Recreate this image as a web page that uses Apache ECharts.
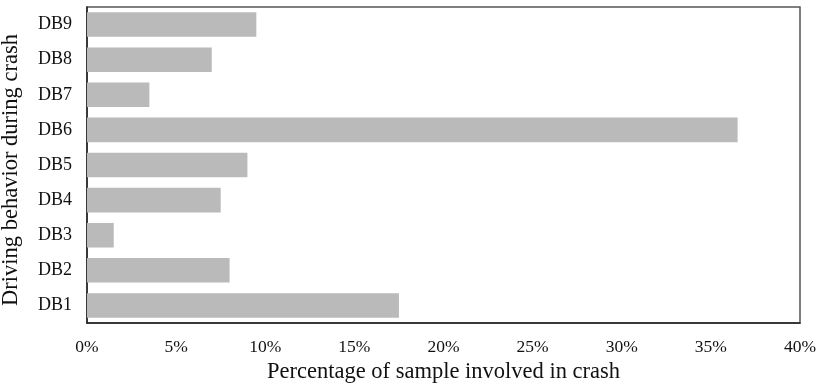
<!DOCTYPE html>
<html><head><meta charset="utf-8">
<script src="https://cdn.jsdelivr.net/npm/echarts@6/dist/echarts.min.js"></script>
<style>html,body{margin:0;padding:0;background:#fff}#c{width:819px;height:387px}</style>
</head><body><div id="c"></div>
<script>
const categories = ['DB1','DB2','DB3','DB4','DB5','DB6','DB7','DB8','DB9'];
const values = [17.5, 8.0, 1.5, 7.5, 9.0, 36.5, 3.5, 7.0, 9.5];
const xTicks = [0,5,10,15,20,25,30,35,40];
const font = 'Liberation Serif';
const chart = echarts.init(document.getElementById('c'));
chart.setOption({
  animation: false,
  grid: {left: 87, right: 19, top: 7, bottom: 64, show: true, borderColor: '#555', borderWidth: 1.5,
    containLabel: false, outerBoundsMode: 'none'},
  xAxis: {
    type: 'value', min: 0, max: 40, interval: 5,
    name: 'Percentage of sample involved in crash', nameLocation: 'middle', nameGap: 38,
    nameTextStyle: {fontFamily: font, fontSize: 22.5, color: '#111'},
    axisLine: {show: true, lineStyle: {color: '#222', width: 1.5}},
    axisTick: {show: false}, splitLine: {show: false},
    axisLabel: {fontFamily: font, fontSize: 17.5, color: '#111', margin: 15,
      formatter: v => xTicks.includes(v) ? v + '%' : ''}
  },
  yAxis: {
    type: 'category', data: categories,
    name: 'Driving behavior during crash', nameLocation: 'middle', nameGap: 64,
    nameTextStyle: {fontFamily: font, fontSize: 22.5, color: '#111', padding: [0, 10, 0, 0]},
    axisLine: {show: true, lineStyle: {color: '#222', width: 1.5}},
    axisTick: {show: false},
    axisLabel: {fontFamily: font, fontSize: 18, color: '#111', margin: 15}
  },
  series: [{type: 'bar', data: values, barCategoryGap: '30%', itemStyle: {color: '#bababa'}}]
});
</script></body></html>
